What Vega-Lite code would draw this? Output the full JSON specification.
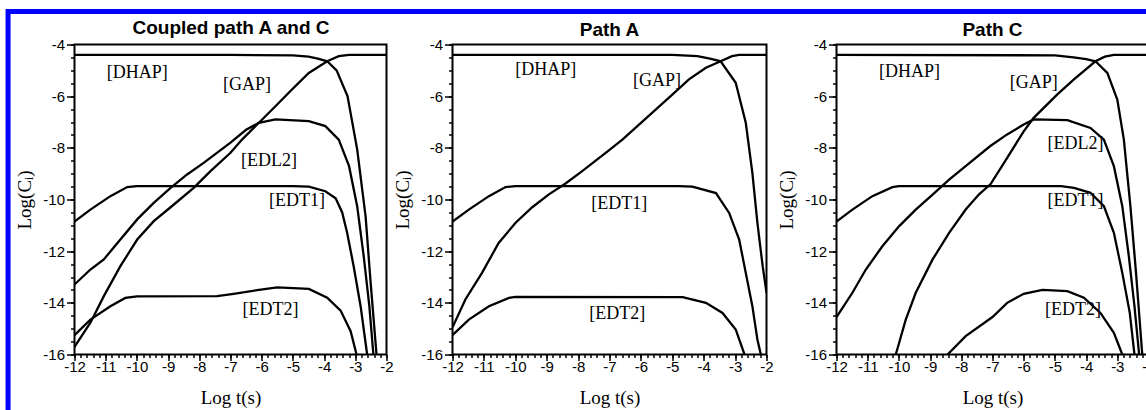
{
  "$schema": "https://vega.github.io/schema/vega-lite/v6.json",
  "background": "white",
  "padding": {"left": 4.5, "top": 5.5, "right": 0, "bottom": 0},
  "bounds": "flush",
  "spacing": 66,
  "config": {
    "view": {"stroke": "black", "strokeWidth": 2},
    "axis": {"grid": false, "domain": false, "ticks": true, "tickColor": "black", "tickWidth": 1.5, "labelColor": "black", "titleColor": "black", "labelFont": "Liberation Sans", "labelFontSize": 15, "titleFont": "Liberation Serif", "titleFontSize": 19, "titleFontWeight": "normal", "labelFlush": false, "labelOverlap": false},
    "title": {"font": "Liberation Sans", "fontSize": 19, "fontWeight": "bold", "color": "black", "frame": "group", "anchor": "middle", "offset": -2}
  },
  "datasets": {
    "p1": [
      {"s":"DHAP","x":-12,"y":-4.4},{"s":"DHAP","x":-7,"y":-4.4},{"s":"DHAP","x":-5,"y":-4.42},{"s":"DHAP","x":-4.5,"y":-4.47},{"s":"DHAP","x":-4.2,"y":-4.55},{"s":"DHAP","x":-3.9,"y":-4.65},{"s":"DHAP","x":-3.6,"y":-5.0},{"s":"DHAP","x":-3.25,"y":-6.0},{"s":"DHAP","x":-2.94,"y":-8.06},{"s":"DHAP","x":-2.67,"y":-10.65},{"s":"DHAP","x":-2.51,"y":-13.2},{"s":"DHAP","x":-2.32,"y":-16},
      {"s":"GAP","x":-12,"y":-15.7},{"s":"GAP","x":-11.49,"y":-14.77},{"s":"GAP","x":-11.06,"y":-13.74},{"s":"GAP","x":-10.53,"y":-12.58},{"s":"GAP","x":-9.99,"y":-11.55},{"s":"GAP","x":-9.46,"y":-10.84},{"s":"GAP","x":-8.92,"y":-10.3},{"s":"GAP","x":-8.18,"y":-9.55},{"s":"GAP","x":-7.64,"y":-8.9},{"s":"GAP","x":-7.0,"y":-8.19},{"s":"GAP","x":-6.63,"y":-7.68},{"s":"GAP","x":-6.09,"y":-7.03},{"s":"GAP","x":-5.56,"y":-6.39},{"s":"GAP","x":-5.03,"y":-5.74},{"s":"GAP","x":-4.49,"y":-5.1},{"s":"GAP","x":-3.9,"y":-4.65},{"s":"GAP","x":-3.53,"y":-4.45},{"s":"GAP","x":-3.2,"y":-4.4},{"s":"GAP","x":-2,"y":-4.4},
      {"s":"EDL2","x":-12,"y":-13.29},{"s":"EDL2","x":-11.49,"y":-12.71},{"s":"EDL2","x":-11.06,"y":-12.32},{"s":"EDL2","x":-10.53,"y":-11.55},{"s":"EDL2","x":-9.99,"y":-10.77},{"s":"EDL2","x":-9.46,"y":-10.13},{"s":"EDL2","x":-8.92,"y":-9.55},{"s":"EDL2","x":-8.39,"y":-9.03},{"s":"EDL2","x":-7.86,"y":-8.58},{"s":"EDL2","x":-7.0,"y":-7.8},{"s":"EDL2","x":-6.5,"y":-7.3},{"s":"EDL2","x":-6.09,"y":-7.03},{"s":"EDL2","x":-5.56,"y":-6.9},{"s":"EDL2","x":-4.49,"y":-6.97},{"s":"EDL2","x":-3.96,"y":-7.16},{"s":"EDL2","x":-3.53,"y":-7.68},{"s":"EDL2","x":-3.2,"y":-8.71},{"s":"EDL2","x":-2.94,"y":-10.26},{"s":"EDL2","x":-2.73,"y":-12.2},{"s":"EDL2","x":-2.55,"y":-14.13},{"s":"EDL2","x":-2.42,"y":-16},
      {"s":"EDT1","x":-12,"y":-10.85},{"s":"EDT1","x":-11.49,"y":-10.39},{"s":"EDT1","x":-10.85,"y":-9.87},{"s":"EDT1","x":-10.31,"y":-9.52},{"s":"EDT1","x":-10,"y":-9.48},{"s":"EDT1","x":-5,"y":-9.48},{"s":"EDT1","x":-4.49,"y":-9.5},{"s":"EDT1","x":-3.96,"y":-9.68},{"s":"EDT1","x":-3.63,"y":-9.95},{"s":"EDT1","x":-3.42,"y":-10.5},{"s":"EDT1","x":-3.26,"y":-11.3},{"s":"EDT1","x":-3.05,"y":-12.6},{"s":"EDT1","x":-2.83,"y":-14.13},{"s":"EDT1","x":-2.62,"y":-16},
      {"s":"EDT2","x":-12,"y":-15.25},{"s":"EDT2","x":-11.49,"y":-14.65},{"s":"EDT2","x":-10.85,"y":-14.13},{"s":"EDT2","x":-10.37,"y":-13.81},{"s":"EDT2","x":-10,"y":-13.75},{"s":"EDT2","x":-7.43,"y":-13.74},{"s":"EDT2","x":-6.9,"y":-13.65},{"s":"EDT2","x":-6.09,"y":-13.5},{"s":"EDT2","x":-5.5,"y":-13.4},{"s":"EDT2","x":-4.49,"y":-13.46},{"s":"EDT2","x":-3.9,"y":-13.8},{"s":"EDT2","x":-3.47,"y":-14.3},{"s":"EDT2","x":-3.15,"y":-15.1},{"s":"EDT2","x":-2.96,"y":-16}
    ],
    "p2": [
      {"s":"DHAP","x":-12,"y":-4.4},{"s":"DHAP","x":-5,"y":-4.4},{"s":"DHAP","x":-4.2,"y":-4.45},{"s":"DHAP","x":-3.8,"y":-4.55},{"s":"DHAP","x":-3.46,"y":-4.65},{"s":"DHAP","x":-2.98,"y":-5.48},{"s":"DHAP","x":-2.66,"y":-7.03},{"s":"DHAP","x":-2.45,"y":-8.97},{"s":"DHAP","x":-2.29,"y":-10.9},{"s":"DHAP","x":-2.12,"y":-12.6},{"s":"DHAP","x":-2.0,"y":-13.6},
      {"s":"GAP","x":-12,"y":-14.95},{"s":"GAP","x":-11.59,"y":-13.87},{"s":"GAP","x":-11.06,"y":-12.84},{"s":"GAP","x":-10.53,"y":-11.68},{"s":"GAP","x":-9.99,"y":-10.9},{"s":"GAP","x":-9.46,"y":-10.3},{"s":"GAP","x":-8.93,"y":-9.8},{"s":"GAP","x":-8.4,"y":-9.38},{"s":"GAP","x":-7.87,"y":-8.9},{"s":"GAP","x":-7.02,"y":-8.1},{"s":"GAP","x":-6.59,"y":-7.68},{"s":"GAP","x":-6.06,"y":-7.1},{"s":"GAP","x":-5.53,"y":-6.52},{"s":"GAP","x":-5,"y":-5.94},{"s":"GAP","x":-4.47,"y":-5.35},{"s":"GAP","x":-3.93,"y":-4.9},{"s":"GAP","x":-3.46,"y":-4.65},{"s":"GAP","x":-3.1,"y":-4.45},{"s":"GAP","x":-2.87,"y":-4.4},{"s":"GAP","x":-2,"y":-4.4},
      {"s":"EDT1","x":-12,"y":-10.85},{"s":"EDT1","x":-11.48,"y":-10.39},{"s":"EDT1","x":-10.84,"y":-9.87},{"s":"EDT1","x":-10.31,"y":-9.52},{"s":"EDT1","x":-10,"y":-9.48},{"s":"EDT1","x":-4.8,"y":-9.48},{"s":"EDT1","x":-4.36,"y":-9.5},{"s":"EDT1","x":-3.61,"y":-9.75},{"s":"EDT1","x":-3.19,"y":-10.52},{"s":"EDT1","x":-2.87,"y":-11.55},{"s":"EDT1","x":-2.66,"y":-12.84},{"s":"EDT1","x":-2.45,"y":-14.13},{"s":"EDT1","x":-2.29,"y":-15.42},{"s":"EDT1","x":-2.18,"y":-16},
      {"s":"EDT2","x":-12,"y":-15.25},{"s":"EDT2","x":-11.48,"y":-14.65},{"s":"EDT2","x":-10.84,"y":-14.13},{"s":"EDT2","x":-10.2,"y":-13.81},{"s":"EDT2","x":-10,"y":-13.77},{"s":"EDT2","x":-4.67,"y":-13.78},{"s":"EDT2","x":-3.93,"y":-14.0},{"s":"EDT2","x":-3.4,"y":-14.39},{"s":"EDT2","x":-2.98,"y":-15.03},{"s":"EDT2","x":-2.7,"y":-16}
    ],
    "p3": [
      {"s":"DHAP","x":-12,"y":-4.4},{"s":"DHAP","x":-5,"y":-4.42},{"s":"DHAP","x":-4.4,"y":-4.5},{"s":"DHAP","x":-4,"y":-4.57},{"s":"DHAP","x":-3.7,"y":-4.65},{"s":"DHAP","x":-3.32,"y":-5.1},{"s":"DHAP","x":-3,"y":-6.13},{"s":"DHAP","x":-2.79,"y":-7.68},{"s":"DHAP","x":-2.58,"y":-10.26},{"s":"DHAP","x":-2.4,"y":-12.84},{"s":"DHAP","x":-2.2,"y":-16},
      {"s":"GAP","x":-10.1,"y":-16},{"s":"GAP","x":-9.78,"y":-14.65},{"s":"GAP","x":-9.46,"y":-13.61},{"s":"GAP","x":-8.92,"y":-12.32},{"s":"GAP","x":-8.39,"y":-11.29},{"s":"GAP","x":-7.86,"y":-10.39},{"s":"GAP","x":-7.43,"y":-9.8},{"s":"GAP","x":-7.06,"y":-9.4},{"s":"GAP","x":-6.53,"y":-8.39},{"s":"GAP","x":-6,"y":-7.36},{"s":"GAP","x":-5.68,"y":-6.84},{"s":"GAP","x":-4.93,"y":-5.94},{"s":"GAP","x":-4.39,"y":-5.35},{"s":"GAP","x":-3.7,"y":-4.65},{"s":"GAP","x":-3.4,"y":-4.47},{"s":"GAP","x":-3.11,"y":-4.4},{"s":"GAP","x":-2,"y":-4.4},
      {"s":"EDL2","x":-12,"y":-14.55},{"s":"EDL2","x":-11.49,"y":-13.61},{"s":"EDL2","x":-11.06,"y":-12.71},{"s":"EDL2","x":-10.53,"y":-11.81},{"s":"EDL2","x":-9.99,"y":-11.03},{"s":"EDL2","x":-9.46,"y":-10.39},{"s":"EDL2","x":-8.92,"y":-9.81},{"s":"EDL2","x":-8.39,"y":-9.23},{"s":"EDL2","x":-7.86,"y":-8.71},{"s":"EDL2","x":-7.08,"y":-7.94},{"s":"EDL2","x":-6.53,"y":-7.48},{"s":"EDL2","x":-6,"y":-7.1},{"s":"EDL2","x":-5.68,"y":-6.9},{"s":"EDL2","x":-4.6,"y":-6.93},{"s":"EDL2","x":-3.86,"y":-7.23},{"s":"EDL2","x":-3.43,"y":-7.68},{"s":"EDL2","x":-3.11,"y":-8.71},{"s":"EDL2","x":-2.84,"y":-10.26},{"s":"EDL2","x":-2.63,"y":-12.2},{"s":"EDL2","x":-2.45,"y":-14.13},{"s":"EDL2","x":-2.3,"y":-16},
      {"s":"EDT1","x":-12,"y":-10.85},{"s":"EDT1","x":-11.49,"y":-10.39},{"s":"EDT1","x":-10.85,"y":-9.87},{"s":"EDT1","x":-10.21,"y":-9.52},{"s":"EDT1","x":-10,"y":-9.48},{"s":"EDT1","x":-4.8,"y":-9.48},{"s":"EDT1","x":-4.39,"y":-9.55},{"s":"EDT1","x":-3.86,"y":-9.74},{"s":"EDT1","x":-3.43,"y":-10.26},{"s":"EDT1","x":-3.11,"y":-11.29},{"s":"EDT1","x":-2.84,"y":-12.84},{"s":"EDT1","x":-2.6,"y":-14.39},{"s":"EDT1","x":-2.45,"y":-16},
      {"s":"EDT2","x":-8.44,"y":-16},{"s":"EDT2","x":-7.86,"y":-15.29},{"s":"EDT2","x":-7.0,"y":-14.55},{"s":"EDT2","x":-6.53,"y":-14.0},{"s":"EDT2","x":-6,"y":-13.65},{"s":"EDT2","x":-5.4,"y":-13.5},{"s":"EDT2","x":-4.6,"y":-13.55},{"s":"EDT2","x":-4.07,"y":-13.8},{"s":"EDT2","x":-3.54,"y":-14.39},{"s":"EDT2","x":-3.11,"y":-15.16},{"s":"EDT2","x":-2.84,"y":-16}
    ],
    "l1": [
      {"t":"[DHAP]","x":-9.99,"y":-5.12},{"t":"[GAP]","x":-6.47,"y":-5.55},{"t":"[EDL2]","x":-5.77,"y":-8.52},{"t":"[EDT1]","x":-4.87,"y":-10.07},{"t":"[EDT2]","x":-5.72,"y":-14.26}
    ],
    "l2": [
      {"t":"[DHAP]","x":-9.03,"y":-4.97},{"t":"[GAP]","x":-5.49,"y":-5.42},{"t":"[EDT1]","x":-6.69,"y":-10.19},{"t":"[EDT2]","x":-6.75,"y":-14.45}
    ],
    "l3": [
      {"t":"[DHAP]","x":-9.66,"y":-5.07},{"t":"[GAP]","x":-5.68,"y":-5.48},{"t":"[EDL2]","x":-4.34,"y":-7.87},{"t":"[EDT1]","x":-4.34,"y":-10.07},{"t":"[EDT2]","x":-4.42,"y":-14.26}
    ]
  },
  "hconcat": [
    {
      "width": 312, "height": 310,
      "resolve": {"axis": {"x": "independent", "y": "independent"}},
      "layer": [
        {
          "data": {"name": "p1"},
          "mark": {"type": "line", "color": "black", "strokeWidth": 2.3, "clip": true},
          "encoding": {
            "x": {"field": "x", "type": "quantitative", "scale": {"domain": [-12, -2], "nice": false, "zero": false},
                  "axis": {"orient": "bottom", "values": [-12,-11,-10,-9,-8,-7,-6,-5,-4,-3,-2], "labelExpr": "'-' + abs(datum.value)", "tickSize": 6, "labelPadding": -1, "title": "Log t(s)", "titlePadding": 14}},
            "y": {"field": "y", "type": "quantitative", "scale": {"domain": [-16, -4], "nice": false, "zero": false},
                  "axis": {"orient": "left", "values": [-16,-14,-12,-10,-8,-6,-4], "labelExpr": "'-' + abs(datum.value)", "tickSize": 8, "labelPadding": 2, "title": "Log(Cᵢ)", "titlePadding": 8}},
            "detail": {"field": "s"}
          }
        },
        {
          "data": {"name": "l1"},
          "mark": {"type": "text", "font": "Liberation Serif", "fontSize": 18, "color": "black", "align": "center", "baseline": "middle"},
          "encoding": {
            "x": {"field": "x", "type": "quantitative", "axis": {"orient": "bottom", "values": [-12,-11.8,-11.6,-11.4,-11.2,-11,-10.8,-10.6,-10.4,-10.2,-10,-9.8,-9.6,-9.4,-9.2,-9,-8.8,-8.6,-8.4,-8.2,-8,-7.8,-7.6,-7.4,-7.2,-7,-6.8,-6.6,-6.4,-6.2,-6,-5.8,-5.6,-5.4,-5.2,-5,-4.8,-4.6,-4.4,-4.2,-4,-3.8,-3.6,-3.4,-3.2,-3,-2.8,-2.6,-2.4,-2.2,-2], "labels": false, "tickSize": 3, "title": null}},
            "y": {"field": "y", "type": "quantitative", "axis": {"orient": "left", "values": [-16,-15.5,-15,-14.5,-14,-13.5,-13,-12.5,-12,-11.5,-11,-10.5,-10,-9.5,-9,-8.5,-8,-7.5,-7,-6.5,-6,-5.5,-5,-4.5,-4], "labels": false, "tickSize": 4, "title": null}},
            "text": {"field": "t"}
          }
        },
        {
          "data": {"values": [{}]},
          "mark": {"type": "rule", "color": "#0000ff", "strokeWidth": 5, "clip": false},
          "encoding": {
            "x": {"datum": -14.13, "type": "quantitative", "axis": {"orient": "top", "labels": false, "ticks": false, "domain": false, "title": "Coupled path A and C", "titleFont": "Liberation Sans", "titleFontSize": 19, "titleFontWeight": "bold", "titlePadding": 7, "minExtent": 0, "maxExtent": 0}},
            "y": {"datum": -2.626, "type": "quantitative", "axis": null},
            "y2": {"datum": -18.5}
          }
        },
        {
          "data": {"values": [{}]},
          "mark": {"type": "rule", "color": "#0000ff", "strokeWidth": 5, "clip": false},
          "encoding": {"x": {"datum": -14.13, "type": "quantitative", "axis": null}, "x2": {"datum": 23}, "y": {"datum": -2.722, "type": "quantitative", "axis": null}}
        }
      ]
    },
    {
      "spacing": 70,
      "bounds": "flush",
      "hconcat": [
        {
          "width": 314, "height": 310,
          "title": {"text": "Path A"},
          "resolve": {"axis": {"x": "independent", "y": "independent"}},
          "layer": [
            {
              "data": {"name": "p2"},
              "mark": {"type": "line", "color": "black", "strokeWidth": 2.3, "clip": true},
              "encoding": {
                "x": {"field": "x", "type": "quantitative", "scale": {"domain": [-12, -2], "nice": false, "zero": false},
                      "axis": {"orient": "bottom", "values": [-12,-11,-10,-9,-8,-7,-6,-5,-4,-3,-2], "labelExpr": "'-' + abs(datum.value)", "tickSize": 6, "labelPadding": -1, "title": "Log t(s)", "titlePadding": 14}},
                "y": {"field": "y", "type": "quantitative", "scale": {"domain": [-16, -4], "nice": false, "zero": false},
                      "axis": {"orient": "left", "values": [-16,-14,-12,-10,-8,-6,-4], "labelExpr": "'-' + abs(datum.value)", "tickSize": 8, "labelPadding": 2, "title": "Log(Cᵢ)", "titlePadding": 8}},
                "detail": {"field": "s"}
              }
            },
            {
              "data": {"name": "l2"},
              "mark": {"type": "text", "font": "Liberation Serif", "fontSize": 18, "color": "black", "align": "center", "baseline": "middle"},
              "encoding": {
                "x": {"field": "x", "type": "quantitative", "axis": {"orient": "bottom", "values": [-12,-11.8,-11.6,-11.4,-11.2,-11,-10.8,-10.6,-10.4,-10.2,-10,-9.8,-9.6,-9.4,-9.2,-9,-8.8,-8.6,-8.4,-8.2,-8,-7.8,-7.6,-7.4,-7.2,-7,-6.8,-6.6,-6.4,-6.2,-6,-5.8,-5.6,-5.4,-5.2,-5,-4.8,-4.6,-4.4,-4.2,-4,-3.8,-3.6,-3.4,-3.2,-3,-2.8,-2.6,-2.4,-2.2,-2], "labels": false, "tickSize": 3, "title": null}},
                "y": {"field": "y", "type": "quantitative", "axis": {"orient": "left", "values": [-16,-15.5,-15,-14.5,-14,-13.5,-13,-12.5,-12,-11.5,-11,-10.5,-10,-9.5,-9,-8.5,-8,-7.5,-7,-6.5,-6,-5.5,-5,-4.5,-4], "labels": false, "tickSize": 4, "title": null}},
                "text": {"field": "t"}
              }
            }
          ]
        },
        {
          "width": 312, "height": 310,
          "title": {"text": "Path C"},
          "resolve": {"axis": {"x": "independent", "y": "independent"}},
          "layer": [
            {
              "data": {"name": "p3"},
              "mark": {"type": "line", "color": "black", "strokeWidth": 2.3, "clip": true},
              "encoding": {
                "x": {"field": "x", "type": "quantitative", "scale": {"domain": [-12, -2], "nice": false, "zero": false},
                      "axis": {"orient": "bottom", "values": [-12,-11,-10,-9,-8,-7,-6,-5,-4,-3,-2], "labelExpr": "'-' + abs(datum.value)", "tickSize": 6, "labelPadding": -1, "title": "Log t(s)", "titlePadding": 14}},
                "y": {"field": "y", "type": "quantitative", "scale": {"domain": [-16, -4], "nice": false, "zero": false},
                      "axis": {"orient": "left", "values": [-16,-14,-12,-10,-8,-6,-4], "labelExpr": "'-' + abs(datum.value)", "tickSize": 8, "labelPadding": 2, "title": "Log(Cᵢ)", "titlePadding": 8}},
                "detail": {"field": "s"}
              }
            },
            {
              "data": {"name": "l3"},
              "mark": {"type": "text", "font": "Liberation Serif", "fontSize": 18, "color": "black", "align": "center", "baseline": "middle"},
              "encoding": {
                "x": {"field": "x", "type": "quantitative", "axis": {"orient": "bottom", "values": [-12,-11.8,-11.6,-11.4,-11.2,-11,-10.8,-10.6,-10.4,-10.2,-10,-9.8,-9.6,-9.4,-9.2,-9,-8.8,-8.6,-8.4,-8.2,-8,-7.8,-7.6,-7.4,-7.2,-7,-6.8,-6.6,-6.4,-6.2,-6,-5.8,-5.6,-5.4,-5.2,-5,-4.8,-4.6,-4.4,-4.2,-4,-3.8,-3.6,-3.4,-3.2,-3,-2.8,-2.6,-2.4,-2.2,-2], "labels": false, "tickSize": 3, "title": null}},
                "y": {"field": "y", "type": "quantitative", "axis": {"orient": "left", "values": [-16,-15.5,-15,-14.5,-14,-13.5,-13,-12.5,-12,-11.5,-11,-10.5,-10,-9.5,-9,-8.5,-8,-7.5,-7,-6.5,-6,-5.5,-5,-4.5,-4], "labels": false, "tickSize": 4, "title": null}},
                "text": {"field": "t"}
              }
            }
          ]
        }
      ]
    }
  ]
}
